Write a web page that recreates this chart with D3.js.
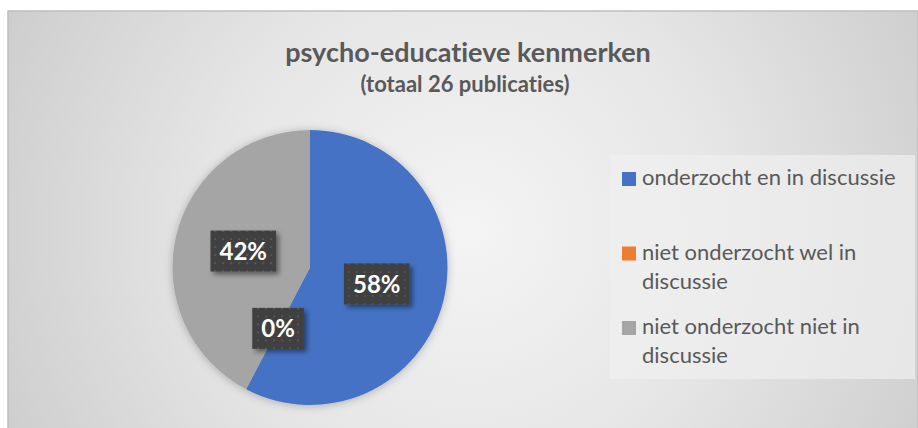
<!DOCTYPE html>
<html>
<head>
<meta charset="utf-8">
<script src="https://cdn.jsdelivr.net/npm/d3@7"></script>
<style>
  html, body { margin: 0; padding: 0; background: #ffffff; }
  svg { display: block; font-family: Lato, "Open Sans", sans-serif; font-variant-ligatures: none; }
</style>
</head>
<body>
<div id="chart"></div>
<script>
// data (26 publications in total)
const categories = ["onderzocht en in discussie", "niet onderzocht wel in discussie", "niet onderzocht niet in discussie"];
const counts = [15, 0, 11];
const colors = ["#4472C4", "#ED7D31", "#A5A5A5"];
const legendLines = [["onderzocht en in discussie"], ["niet onderzocht wel in", "discussie"], ["niet onderzocht niet in", "discussie"]];
const title = "psycho-educatieve kenmerken";
const subtitle = "(totaal 26 publicaties)";

const width = 918, height = 428;
const total = d3.sum(counts);
const data = categories.map(function(c, i) { return { name: c, value: counts[i], lines: legendLines[i] }; });

const svg = d3.select("#chart").append("svg")
    .attr("width", width)
    .attr("height", height);

const defs = svg.append("defs");

let bg = defs.append("radialGradient")
    .attr("id", "bg")
    .attr("gradientUnits", "userSpaceOnUse")
    .attr("cx", 470).attr("cy", 230).attr("r", 560);
bg.append("stop").attr("offset", "0%").attr("stop-color", "#f4f4f4");
bg.append("stop").attr("offset", "45%").attr("stop-color", "#e6e6e6");
bg.append("stop").attr("offset", "100%").attr("stop-color", "#c9c9c9");

let dots = defs.append("pattern")
    .attr("id", "dots")
    .attr("patternUnits", "userSpaceOnUse")
    .attr("width", 8).attr("height", 8);
dots.append("rect").attr("width", 8).attr("height", 8).attr("fill", "#404040");
dots.append("rect").attr("x", 3).attr("y", 3).attr("width", 2).attr("height", 2).attr("fill", "#555555");

let shadow = defs.append("filter").attr("id", "shadow")
    .attr("x", "-30%").attr("y", "-30%").attr("width", "160%").attr("height", "160%");
shadow.append("feDropShadow")
    .attr("dx", 3).attr("dy", 3).attr("stdDeviation", 2.5)
    .attr("flood-color", "#000").attr("flood-opacity", 0.45);

let pieShadow = defs.append("filter").attr("id", "pieShadow")
    .attr("x", "-20%").attr("y", "-20%").attr("width", "140%").attr("height", "140%");
pieShadow.append("feDropShadow")
    .attr("dx", 0).attr("dy", 1).attr("stdDeviation", 4)
    .attr("flood-color", "#000").attr("flood-opacity", 0.25);

// chart area
svg.append("rect")
    .attr("x", 8).attr("y", 11)
    .attr("width", width - 8).attr("height", height)
    .attr("fill", "url(#bg)")
    .attr("stroke", "#bfbfbf")
    .attr("stroke-width", 1.5);

// titles
svg.append("text")
    .attr("x", 468).attr("y", 62)
    .attr("text-anchor", "middle")
    .attr("fill", "#595959")
    .style("font-size", "27px")
    .style("font-weight", "bold")
    .text(title);

svg.append("text")
    .attr("x", 465).attr("y", 92)
    .attr("text-anchor", "middle")
    .attr("fill", "#595959")
    .style("font-size", "22px")
    .style("font-weight", "bold")
    .text(subtitle);

// pie
const radius = 137.5;
const cx = 310, cy = 267.5;

const pie = d3.pie().value(function(d) { return d.value; }).sort(null);
const arc = d3.arc().innerRadius(0).outerRadius(radius);
const labelArc = d3.arc().innerRadius(0).outerRadius(radius);

const arcs = pie(data);

let g = svg.append("g").attr("transform", "translate(" + cx + "," + cy + ")");

g.append("g").attr("filter", "url(#pieShadow)")
  .selectAll("path")
    .data(arcs)
  .enter().append("path")
    .attr("d", arc)
    .attr("fill", function(d, i) { return colors[i]; });

let labels = g.selectAll(".label")
    .data(arcs)
  .enter().append("g")
    .attr("class", "label")
    .attr("transform", function(d) {
      let c = labelArc.centroid(d);
      return "translate(" + c[0] + "," + c[1] + ")";
    });

labels.append("text")
    .attr("text-anchor", "middle")
    .attr("dy", "0.36em")
    .attr("fill", "#ffffff")
    .style("font-size", "24px")
    .style("font-weight", "bold")
    .text(function(d) { return Math.round(d.data.value / total * 100) + "%"; })
    .each(function() {
      let bb = this.getBBox();
      let padX = 9;
      d3.select(this.parentNode).insert("rect", "text")
        .attr("x", bb.x - padX)
        .attr("y", -20.5)
        .attr("width", bb.width + 2 * padX)
        .attr("height", 41)
        .attr("fill", "url(#dots)")
        .attr("filter", "url(#shadow)");
    });

// legend
svg.append("rect")
    .attr("x", 610).attr("y", 155)
    .attr("width", 305).attr("height", 224)
    .attr("fill", "#efefef")
    .attr("fill-opacity", 0.7);

const legendY = d3.scalePoint()
    .domain(categories)
    .range([185, 334]);

let items = svg.selectAll(".legend")
    .data(data)
  .enter().append("g")
    .attr("class", "legend")
    .attr("transform", function(d) { return "translate(622," + legendY(d.name) + ")"; });

items.append("rect")
    .attr("x", 0).attr("y", -13)
    .attr("width", 14).attr("height", 14)
    .attr("fill", function(d, i) { return colors[i]; });

items.append("text")
    .attr("fill", "#595959")
    .style("font-size", "22px")
    .selectAll("tspan")
    .data(function(d) { return d.lines; })
  .enter().append("tspan")
    .attr("x", 20)
    .attr("y", function(d, i) { return i * 29; })
    .text(function(d) { return d; });
</script>
</body>
</html>
